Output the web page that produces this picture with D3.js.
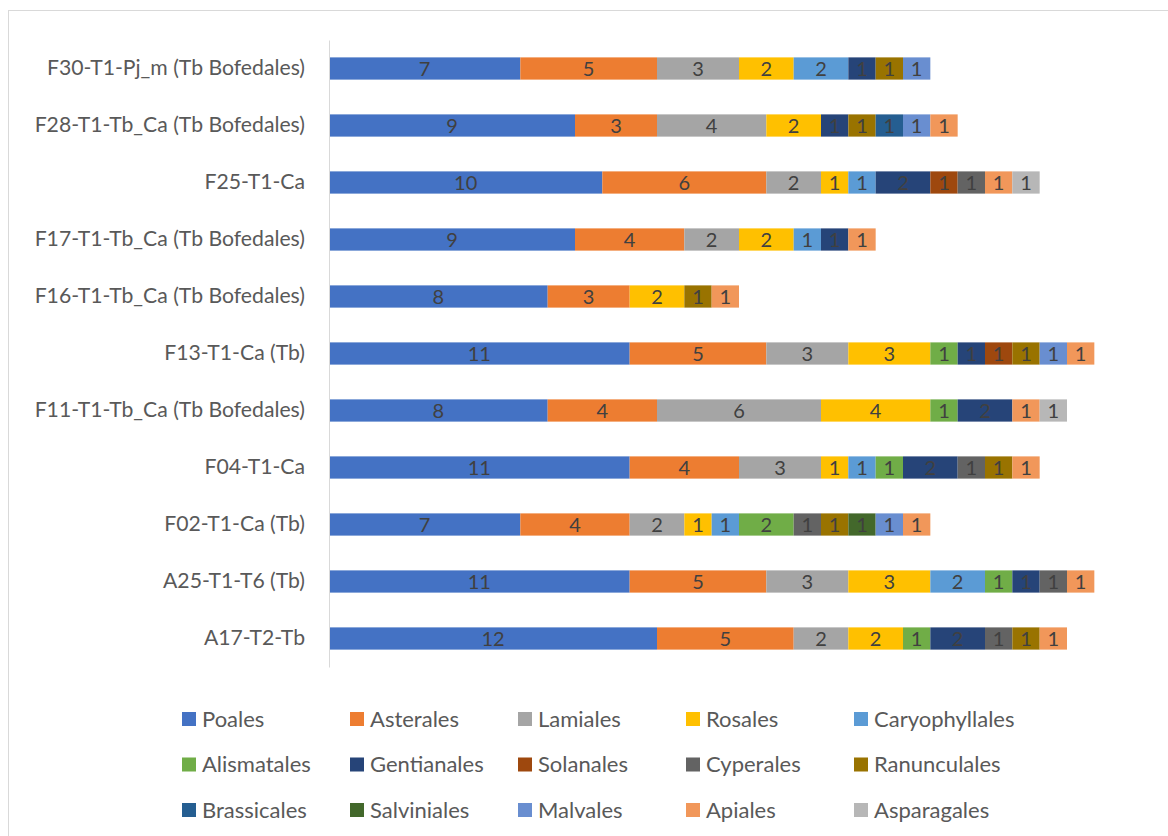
<!DOCTYPE html>
<html>
<head>
<meta charset="utf-8">
<script src="https://cdn.jsdelivr.net/npm/d3@7"></script>
<style>
  body { margin: 0; background: #fff; }
  svg { display: block; font-family: Lato, "Open Sans", sans-serif; }
</style>
</head>
<body>
<svg id="chart" width="1168" height="836"></svg>
<script>
// categories, top to bottom as drawn
var sites = [
  "F30-T1-Pj_m (Tb Bofedales)",
  "F28-T1-Tb_Ca (Tb Bofedales)",
  "F25-T1-Ca",
  "F17-T1-Tb_Ca (Tb Bofedales)",
  "F16-T1-Tb_Ca (Tb Bofedales)",
  "F13-T1-Ca (Tb)",
  "F11-T1-Tb_Ca (Tb Bofedales)",
  "F04-T1-Ca",
  "F02-T1-Ca (Tb)",
  "A25-T1-T6 (Tb)",
  "A17-T2-Tb"
]

var orders = ["Poales", "Asterales", "Lamiales", "Rosales", "Caryophyllales",
  "Alismatales", "Gentianales", "Solanales", "Cyperales", "Ranunculales",
  "Brassicales", "Salviniales", "Malvales", "Apiales", "Asparagales"]

var colors = ["#4472C4", "#ED7D31", "#A5A5A5", "#FFC000", "#5B9BD5",
  "#70AD47", "#264478", "#9E480E", "#636363", "#997300",
  "#255E91", "#43682B", "#698ED0", "#F1975A", "#B7B7B7"]

// one array per order, values in the same order as sites
var Poales         = [7, 9, 10, 9, 8, 11, 8, 11, 7, 11, 12]
var Asterales      = [5, 3, 6, 4, 3, 5, 4, 4, 4, 5, 5]
var Lamiales       = [3, 4, 2, 2, 0, 3, 6, 3, 2, 3, 2]
var Rosales        = [2, 2, 1, 2, 2, 3, 4, 1, 1, 3, 2]
var Caryophyllales = [2, 0, 1, 1, 0, 0, 0, 1, 1, 2, 0]
var Alismatales    = [0, 0, 0, 0, 0, 1, 1, 1, 2, 1, 1]
var Gentianales    = [1, 1, 2, 1, 0, 1, 2, 2, 0, 1, 2]
var Solanales      = [0, 0, 1, 0, 0, 1, 0, 0, 0, 0, 0]
var Cyperales      = [0, 0, 1, 0, 0, 0, 0, 1, 1, 1, 1]
var Ranunculales   = [1, 1, 0, 0, 1, 1, 0, 1, 1, 0, 1]
var Brassicales    = [0, 1, 0, 0, 0, 0, 0, 0, 0, 0, 0]
var Salviniales    = [0, 0, 0, 0, 0, 0, 0, 0, 1, 0, 0]
var Malvales       = [1, 1, 0, 0, 0, 1, 0, 0, 1, 0, 0]
var Apiales        = [0, 1, 1, 1, 1, 1, 1, 1, 1, 1, 1]
var Asparagales    = [0, 0, 1, 0, 0, 0, 1, 0, 0, 0, 0]

var series = [Poales, Asterales, Lamiales, Rosales, Caryophyllales,
  Alismatales, Gentianales, Solanales, Cyperales, Ranunculales,
  Brassicales, Salviniales, Malvales, Apiales, Asparagales]

var table = sites.map(function(s, i) {
  var row = {site: s}
  orders.forEach(function(o, j) { row[o] = series[j][i] })
  return row
})

var svg = d3.select("#chart")

// chart frame
svg.append("rect")
  .attr("x", 8.5).attr("y", 10.5)
  .attr("width", 1180).attr("height", 850)
  .attr("fill", "#fff")
  .attr("stroke", "#d9d9d9")

var x = d3.scaleLinear()
  .domain([0, 30])
  .range([329, 1149])

var y = d3.scaleBand()
  .domain(sites)
  .range([40, 667])
  .paddingInner(0.61)
  .paddingOuter(0.305)

var z = d3.scaleOrdinal()
  .domain(orders)
  .range(colors)

var stack = d3.stack().keys(orders)(table)

var layer = svg.selectAll("g.layer")
  .data(stack)
  .enter().append("g")
  .attr("class", "layer")
  .attr("fill", d => z(d.key))

layer.selectAll("rect")
  .data(d => d.filter(e => e[1] > e[0]))
  .enter().append("rect")
  .attr("x", d => x(d[0]))
  .attr("y", d => y(d.data.site))
  .attr("width", d => x(d[1]) - x(d[0]))
  .attr("height", y.bandwidth())

layer.selectAll("text")
  .data(d => d.filter(e => e[1] > e[0]))
  .enter().append("text")
  .attr("x", d => (x(d[0]) + x(d[1])) / 2)
  .attr("y", d => y(d.data.site) + y.bandwidth() / 2)
  .attr("dy", "0.36em")
  .attr("text-anchor", "middle")
  .attr("fill", "#404040")
  .style("font-size", "20px")
  .text(d => d[1] - d[0])

// category axis
var yAxis = svg.append("g")
  .attr("transform", "translate(329,0)")
  .call(d3.axisLeft(y).tickSize(0).tickPadding(24))

yAxis.select(".domain").attr("stroke", "#d9d9d9")
yAxis.selectAll("text")
  .attr("fill", "#595959")
  .style("font-size", "21.2px")
  .style("font-family", "Lato, 'Open Sans', sans-serif")

// legend
var legend = svg.append("g").attr("class", "legend")

var item = legend.selectAll("g")
  .data(orders)
  .enter().append("g")
  .attr("transform", (d, i) => `translate(${182 + (i % 5) * 168},${719 + Math.floor(i / 5) * 45.5})`)

item.append("rect")
  .attr("x", 0).attr("y", -7)
  .attr("width", 14).attr("height", 14)
  .attr("fill", d => z(d))

item.append("text")
  .attr("x", 20)
  .attr("dy", "0.36em")
  .attr("fill", "#595959")
  .style("font-size", "22px")
  .text(d => d)
</script>
</body>
</html>
